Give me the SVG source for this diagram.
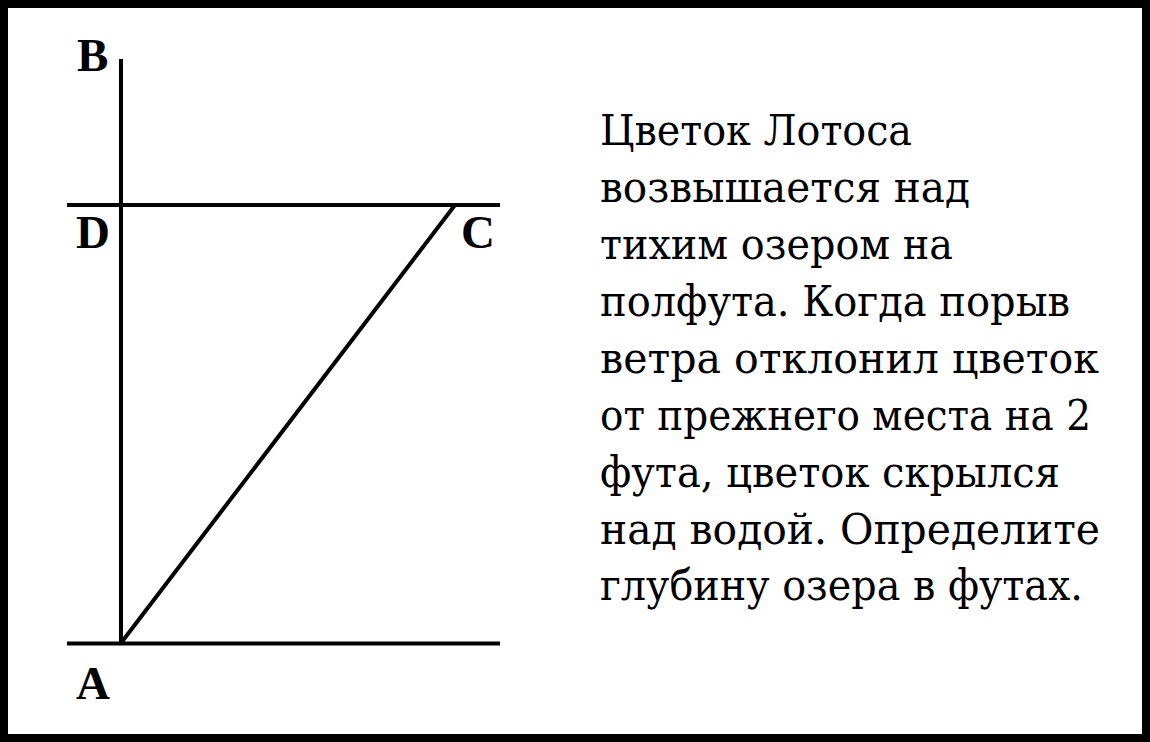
<svg xmlns="http://www.w3.org/2000/svg" width="1150" height="742" viewBox="0 0 1150 742">
<style>
.ln{stroke:#000;stroke-width:4;fill:none}
.lbl{font-family:"Liberation Serif","Times New Roman",serif;font-weight:bold;font-size:47px;fill:#000}
.txt{font-family:"DejaVu Serif","Liberation Serif",serif;font-size:43px;fill:#000}
</style>
<rect x="0" y="0" width="1150" height="742" fill="#fff"/>
<rect x="4" y="4" width="1142" height="734" fill="none" stroke="#000" stroke-width="8"/>
<g id="connectors">
<line class="ln" x1="121" y1="59" x2="121" y2="645"/>
<line class="ln" x1="67" y1="205" x2="500" y2="205"/>
<line class="ln" x1="67" y1="643.5" x2="500" y2="643.5"/>
<line class="ln" x1="121" y1="643" x2="455" y2="205"/>
</g>
<g id="B"><text class="lbl" x="77" y="71">B</text></g>
<g id="D"><text class="lbl" x="76" y="248">D</text></g>
<g id="C"><text class="lbl" x="461" y="248">C</text></g>
<g id="A"><text class="lbl" x="76" y="699">A</text></g>
<g id="problem" class="txt">
<text x="600" y="145" textLength="312" lengthAdjust="spacingAndGlyphs">Цветок Лотоса</text>
<text x="600" y="202" textLength="370" lengthAdjust="spacingAndGlyphs">возвышается над</text>
<text x="600" y="259" textLength="353" lengthAdjust="spacingAndGlyphs">тихим озером на</text>
<text x="600" y="316" textLength="470" lengthAdjust="spacingAndGlyphs">полфута. Когда порыв</text>
<text x="600" y="373" textLength="499" lengthAdjust="spacingAndGlyphs">ветра отклонил цветок</text>
<text x="600" y="430" textLength="491" lengthAdjust="spacingAndGlyphs">от прежнего места на 2</text>
<text x="600" y="487" textLength="460" lengthAdjust="spacingAndGlyphs">фута, цветок скрылся</text>
<text x="600" y="544" textLength="500" lengthAdjust="spacingAndGlyphs">над водой. Определите</text>
<text x="600" y="600" textLength="483" lengthAdjust="spacingAndGlyphs">глубину озера в футах.</text>
</g>
</svg>
